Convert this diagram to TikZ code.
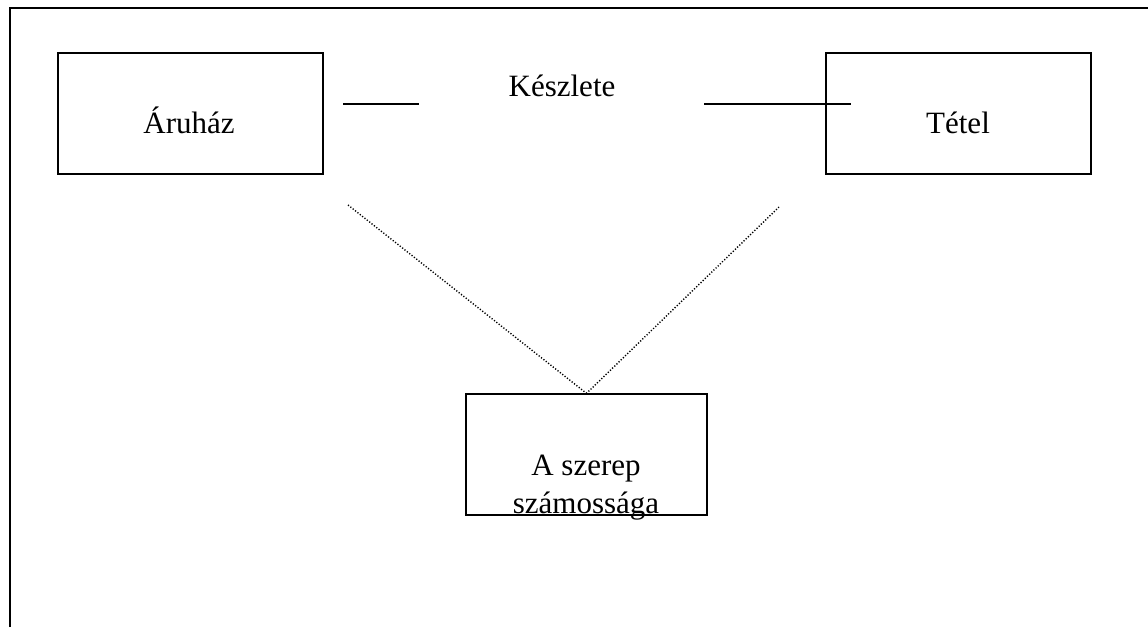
\documentclass[tikz,border=0pt]{standalone}
\usepackage{fontspec}
\setmainfont{Liberation Serif}
\begin{document}
\begin{tikzpicture}[x=1pt,y=-1pt,
  entbox/.style={draw, line width=1.3pt, inner sep=0pt, minimum width=#1},
  lbl/.style={anchor=base, inner sep=0pt, font=\fontsize{31}{35}\selectfont},
  rel/.style={line width=1.5pt},
  roleline/.style={line width=1.4pt, dash pattern=on 1.2pt off 1.8pt},
  frame/.style={line width=2pt}]
\useasboundingbox (0,0) rectangle (1148,627);
% outer frame (top and left only)
\draw[frame] (10,627) -- (10,8) -- (1148,8);
% entity boxes
\node[entbox=265pt, minimum height=121pt] (aruhaz) at (190.5,113.5) {};
\node[entbox=265pt, minimum height=121pt] (tetel) at (958.5,113.5) {};
\node[entbox=241pt, minimum height=121pt] (szerep) at (586.5,454.5) {};
% labels
\node[lbl] (taruhaz) at (189,133) {Áruház};
\node[lbl] (ttetel) at (958,133) {Tétel};
\node[lbl] (tkeszlete) at (562,96) {Készlete};
\node[lbl] (tszerep1) at (586,475) {A szerep};
\node[lbl] (tszerep2) at (586,513) {számossága};
% relationship line stubs
\coordinate (l1) at (343,104);
\coordinate (l2) at (419,104);
\coordinate (r1) at (704,104);
\coordinate (r2) at (851,104);
\draw[rel] (l1) -- (l2);
\draw[rel] (r1) -- (r2);
% dotted role lines
\coordinate (d1) at (348,205);
\coordinate (d2) at (779,207);
\draw[roleline] (d1) -- (szerep.north);
\draw[roleline] (d2) -- (szerep.north);
\end{tikzpicture}
\end{document}
